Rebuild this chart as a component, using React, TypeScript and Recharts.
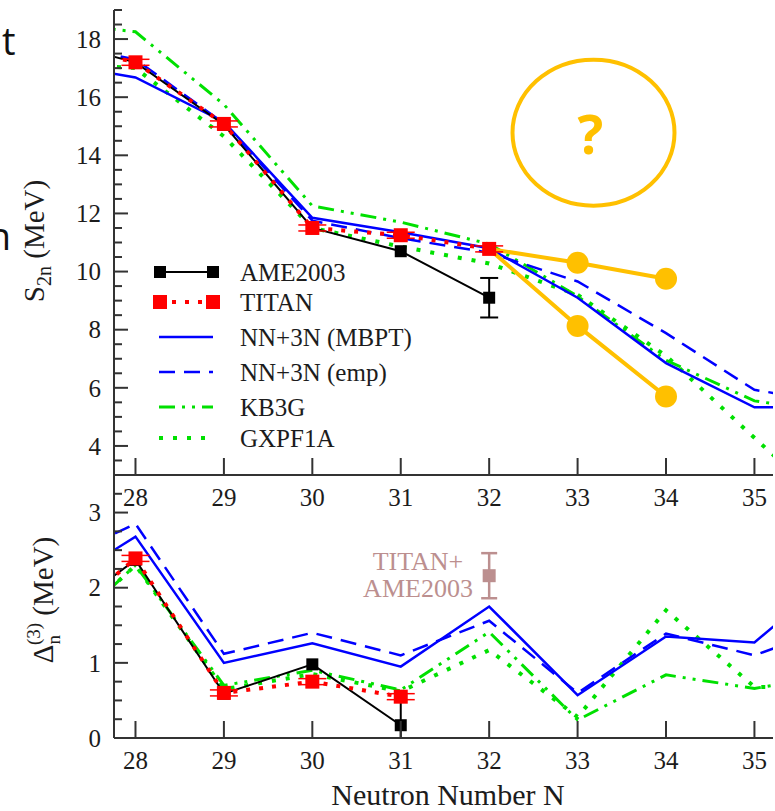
import React from "react";
import { LineChart, Line, XAxis, YAxis, ErrorBar, ReferenceDot } from "recharts";

// neutron number N (27 and 36 only carry the lines out to the frame)
const N = [27, 28, 29, 30, 31, 32, 33, 34, 35, 36];

// S2n (MeV), upper panel
const s2nAME = [18.0, 17.2, 15.05, 11.5, 10.7, 9.1, null, null, null, null];
const s2nAMEErr = [null, null, null, null, null, 0.68, null, null, null, null];
const s2nTITAN = [17.9, 17.2, 15.08, 11.5, 11.25, 10.78, null, null, null, null];
const s2nMBPT = [17.2, 16.68, 15.15, 11.85, 11.35, 10.8, 9.1, 6.85, 5.33, 5.33];
const s2nEmp = [17.9, 17.3, 15.1, 11.75, 11.15, 10.65, 9.66, 7.88, 5.93, 5.43];
const s2nKB3G = [18.6, 18.25, 15.75, 12.26, 11.7, 10.95, 9.15, 6.95, 5.55, 5.1];
const s2nGXPF1A = [17.2, 17.0, 14.65, 11.5, 10.86, 10.28, 9.2, 7.1, 4.28, 1.5];
const guessHigh = [null, null, null, null, null, 10.78, 10.3, 9.75, null, null];
const guessLow = [null, null, null, null, null, 10.78, 8.13, 5.7, null, null];

// Delta_n^(3) (MeV), lower panel
const d3AME = [1.5, 2.37, 0.59, 0.98, 0.17, null, null, null, null, null];
const d3AMEErr = [null, null, null, null, [0.17, 0.37], null, null, null, null, null];
const d3TITAN = [1.4, 2.39, 0.6, 0.75, 0.55, null, null, null, null, null];
const d3MBPT = [1.94, 2.68, 1.0, 1.26, 0.95, 1.75, 0.57, 1.35, 1.27, 2.27];
const d3Emp = [2.3, 2.85, 1.12, 1.4, 1.1, 1.56, 0.6, 1.39, 1.1, 1.53];
const d3KB3G = [1.2, 2.3, 0.7, 0.9, 0.64, 1.41, 0.24, 0.84, 0.66, 0.85];
const d3GXPF1A = [1.2, 2.3, 0.65, 0.85, 0.62, 1.17, 0.28, 1.7, 0.68, 0.68];
const d3Combined = [null, null, null, null, null, 2.16, null, null, null, null];
const d3CombinedErr = [null, null, null, null, null, 0.3, null, null, null, null];

const N_TICKS = [28, 29, 30, 31, 32, 33, 34, 35];
const S2N_TICKS = Array.from({ length: 33 }, (_, i) => 3 + i * 0.5);
const D3_TICKS = Array.from({ length: 15 }, (_, i) => i * 0.25);

const topRows = N.map((n, i) => ({
  n,
  ame: s2nAME[i],
  ameErr: s2nAMEErr[i],
  titan: s2nTITAN[i],
  mbpt: s2nMBPT[i],
  emp: s2nEmp[i],
  kb3g: s2nKB3G[i],
  gxpf: s2nGXPF1A[i],
  hi: guessHigh[i],
  lo: guessLow[i],
}));

const bottomRows = N.map((n, i) => ({
  n,
  ame: d3AME[i],
  ameErr: d3AMEErr[i],
  titan: d3TITAN[i],
  mbpt: d3MBPT[i],
  emp: d3Emp[i],
  kb3g: d3KB3G[i],
  gxpf: d3GXPF1A[i],
  comb: d3Combined[i],
  combErr: d3CombinedErr[i],
}));

const W = 775;
const X_DOMAIN: [number, number] = [27.757, 35.21];
const SERIF = '"Liberation Serif", "Times New Roman", Times, serif';
const SANS = '"Open Sans", "Noto Sans", sans-serif';
const INK = "#1c1c1c";
const FRAME = { stroke: "#333", strokeWidth: 2 };
const RED = "#ff0000";
const ORANGE = "#ffc000";
const BROWN = "#bc8f8f";
const serif = (size: number) => ({ fontFamily: SERIF, fontSize: size });

const STYLE: Record<string, { color: string; width: number; dash?: string }> = {
  ame: { color: "#000000", width: 2 },
  titan: { color: RED, width: 4, dash: "4 9" },
  mbpt: { color: "#0000ff", width: 2.5 },
  emp: { color: "#0000ff", width: 2.5, dash: "16 9" },
  kb3g: { color: "#00e000", width: 3, dash: "16 7 3 7 3 7" },
  gxpf: { color: "#00e000", width: 4, dash: "4 10" },
};

const LEGEND = [
  { key: "ame", name: "AME2003", y: 272 },
  { key: "titan", name: "TITAN", y: 302 },
  { key: "mbpt", name: "NN+3N (MBPT)", y: 337 },
  { key: "emp", name: "NN+3N (emp)", y: 372 },
  { key: "kb3g", name: "KB3G", y: 407 },
  { key: "gxpf", name: "GXPF1A", y: 438 },
];

const inFrame = (n: number) => n >= 28 && n <= 35;

const yTick = (side: "left" | "right", step: number, labels: boolean) => (props: any) => {
  const { x, y, payload } = props;
  const v = payload.value;
  const major = Math.abs(v / step - Math.round(v / step)) < 1e-6;
  const len = major ? 14 : 8;
  const dir = side === "left" ? 1 : -1;
  return (
    <g>
      <line x1={x} x2={x + dir * len} y1={y} y2={y} stroke="#333" strokeWidth={2} />
      {labels && major && (
        <text x={x - 13} y={y} dy="0.35em" textAnchor="end" style={serif(25)} fill={INK}>
          {v}
        </text>
      )}
    </g>
  );
};

const xTick = (side: "top" | "bottom", labels: boolean) => (props: any) => {
  const { x, y, payload } = props;
  const dir = side === "bottom" ? -1 : 1;
  return (
    <g>
      <line x1={x} x2={x} y1={y} y2={y + dir * 17} stroke="#333" strokeWidth={2} />
      {labels && (
        <text x={x} y={y + 22} dy="0.35em" textAnchor="middle" style={serif(25)} fill={INK}>
          {payload.value}
        </text>
      )}
    </g>
  );
};

const squareDot = (size: number, color: string) => (props: any) => {
  const { cx, cy, payload, index } = props;
  if (cx == null || cy == null || !inFrame(payload.n)) return <g key={index} />;
  return <rect key={index} x={cx - size / 2} y={cy - size / 2} width={size} height={size} fill={color} />;
};

const titanDot = (props: any) => {
  const { cx, cy, payload, index } = props;
  if (cx == null || cy == null || !inFrame(payload.n)) return <g key={index} />;
  return (
    <g key={index}>
      <line x1={cx - 14} x2={cx + 14} y1={cy - 3} y2={cy - 3} stroke={RED} strokeWidth={1.5} />
      <line x1={cx - 14} x2={cx + 14} y1={cy + 3} y2={cy + 3} stroke={RED} strokeWidth={1.5} />
      <rect x={cx - 7} y={cy - 7} width={14} height={14} fill={RED} />
    </g>
  );
};

const guessDot = (props: any) => {
  const { cx, cy, payload, index } = props;
  if (cx == null || cy == null || payload.n <= 32) return <g key={index} />;
  return <circle key={index} cx={cx} cy={cy} r={11} fill={ORANGE} />;
};

function theoryLines(ids: { xAxisId: string; yAxisId: string }) {
  return ["gxpf", "kb3g", "emp", "mbpt"].map((k) => (
    <Line
      key={k}
      {...ids}
      dataKey={k}
      stroke={STYLE[k].color}
      strokeWidth={STYLE[k].width}
      strokeDasharray={STYLE[k].dash}
      dot={false}
      isAnimationActive={false}
    />
  ));
}

function TopPanel() {
  const ids = { xAxisId: "b", yAxisId: "l" };
  return (
    <LineChart width={W} height={520} data={topRows} margin={{ top: 10, right: 2, bottom: 0, left: 0 }}>
      <XAxis xAxisId="b" dataKey="n" type="number" domain={X_DOMAIN} allowDataOverflow ticks={N_TICKS} interval={0}
        height={45} tickSize={0} tickMargin={0} tickLine={false} axisLine={FRAME} tick={xTick("bottom", true)} />
      <XAxis xAxisId="t" orientation="top" dataKey="n" type="number" domain={X_DOMAIN} allowDataOverflow ticks={N_TICKS}
        interval={0} height={0} tickSize={0} tickMargin={0} tickLine={false} axisLine={FRAME} tick={xTick("top", false)} />
      <YAxis yAxisId="l" type="number" domain={[3, 19]} allowDataOverflow ticks={S2N_TICKS} interval={0} width={114}
        tickSize={0} tickMargin={0} tickLine={false} axisLine={FRAME} tick={yTick("left", 2, true)} />
      <YAxis yAxisId="r" orientation="right" type="number" domain={[3, 19]} allowDataOverflow ticks={S2N_TICKS}
        interval={0} width={0} tickSize={0} tickMargin={0} tickLine={false} axisLine={FRAME} tick={yTick("right", 2, false)} />
      {theoryLines(ids)}
      <Line {...ids} dataKey="ame" stroke="#000" strokeWidth={2} dot={squareDot(12, "#000")} isAnimationActive={false}>
        <ErrorBar dataKey="ameErr" direction="y" width={9} stroke="#000" strokeWidth={2} />
      </Line>
      <Line {...ids} dataKey="titan" stroke={RED} strokeWidth={4} strokeDasharray="4 9" dot={titanDot} isAnimationActive={false} />
      <Line {...ids} dataKey="hi" stroke={ORANGE} strokeWidth={4} dot={guessDot} isAnimationActive={false} />
      <Line {...ids} dataKey="lo" stroke={ORANGE} strokeWidth={4} dot={guessDot} isAnimationActive={false} />
      <ReferenceDot
        {...ids}
        x={33.18}
        y={14.78}
        r={1}
        shape={(p: any) => (
          <g>
            <ellipse cx={p.cx} cy={p.cy} rx={81} ry={73} fill="none" stroke={ORANGE} strokeWidth={4} />
            <text x={p.cx - 3} y={p.cy + 21} textAnchor="middle" style={{ fontFamily: SANS, fontWeight: 700, fontSize: 54 }} fill={ORANGE}>
              ?
            </text>
          </g>
        )}
      />
    </LineChart>
  );
}

function BottomPanel() {
  const ids = { xAxisId: "b", yAxisId: "l" };
  return (
    <LineChart width={W} height={346} data={bottomRows} margin={{ top: 10, right: 2, bottom: 0, left: 0 }}>
      <XAxis xAxisId="b" dataKey="n" type="number" domain={X_DOMAIN} allowDataOverflow ticks={N_TICKS} interval={0}
        height={73} tickSize={0} tickMargin={0} tickLine={false} axisLine={FRAME} tick={xTick("bottom", true)} />
      <YAxis yAxisId="l" type="number" domain={[0, 3.5]} allowDataOverflow ticks={D3_TICKS} interval={0} width={114}
        tickSize={0} tickMargin={0} tickLine={false} axisLine={FRAME} tick={yTick("left", 1, true)} />
      <YAxis yAxisId="r" orientation="right" type="number" domain={[0, 3.5]} allowDataOverflow ticks={D3_TICKS}
        interval={0} width={0} tickSize={0} tickMargin={0} tickLine={false} axisLine={FRAME} tick={yTick("right", 1, false)} />
      {theoryLines(ids)}
      <Line {...ids} dataKey="ame" stroke="#000" strokeWidth={2} dot={squareDot(12, "#000")} isAnimationActive={false}>
        <ErrorBar dataKey="ameErr" direction="y" width={0} stroke="#000" strokeWidth={2} />
      </Line>
      <Line {...ids} dataKey="titan" stroke={RED} strokeWidth={4} strokeDasharray="4 9" dot={titanDot} isAnimationActive={false} />
      <Line {...ids} dataKey="comb" stroke="none" dot={squareDot(13, BROWN)} isAnimationActive={false}>
        <ErrorBar dataKey="combErr" direction="y" width={8} stroke={BROWN} strokeWidth={2.5} />
      </Line>
    </LineChart>
  );
}

function LegendSymbol({ k, y }: { k: string; y: number }) {
  const s = STYLE[k];
  return (
    <g>
      <line x1={159} x2={213} y1={y} y2={y} stroke={s.color} strokeWidth={s.width} strokeDasharray={s.dash} />
      {k === "ame" && (
        <>
          <rect x={154} y={y - 6} width={12} height={12} fill="#000" />
          <rect x={207} y={y - 6} width={12} height={12} fill="#000" />
        </>
      )}
      {k === "titan" && (
        <>
          <rect x={153} y={y - 7} width={14} height={14} fill={RED} />
          <rect x={206} y={y - 7} width={14} height={14} fill={RED} />
        </>
      )}
    </g>
  );
}

function Overlay() {
  return (
    <svg width={W} height={811} style={{ position: "absolute", left: 0, top: 0, pointerEvents: "none" }}>
      {/* cut-off slide text on the left */}
      <text x={2} y={55} style={{ fontFamily: SANS, fontSize: 38 }} fill="#111">t</text>
      <text x={11} y={250} textAnchor="end" style={{ fontFamily: SANS, fontSize: 38 }} fill="#111">n</text>

      {LEGEND.map((e) => (
        <g key={e.key}>
          <LegendSymbol k={e.key} y={e.y} />
          <text x={240} y={e.y} dy="0.35em" style={serif(25)} fill={INK}>{e.name}</text>
        </g>
      ))}

      <text x={418} y={570} textAnchor="middle" style={serif(26)} fill={BROWN}>TITAN+</text>
      <text x={418} y={597} textAnchor="middle" style={serif(26)} fill={BROWN}>AME2003</text>

      <text transform="translate(44,241) rotate(-90)" textAnchor="middle" style={serif(29)} fill={INK}>
        S<tspan style={{ fontSize: 20 }} dy={7}>2n</tspan>
        <tspan dy={-7}> (MeV)</tspan>
      </text>
      <text transform="translate(53,600) rotate(-90)" textAnchor="middle" style={serif(29)} fill={INK}>
        Δ<tspan style={{ fontSize: 19 }} dy={7}>n</tspan>
        <tspan style={{ fontSize: 19 }} dx={-10} dy={-20}>(3)</tspan>
        <tspan dy={13}> (MeV)</tspan>
      </text>
      <text x={448} y={805} textAnchor="middle" style={serif(30)} fill={INK}>Neutron Number N</text>
    </svg>
  );
}

export default function App() {
  return (
    <div style={{ position: "absolute", left: 0, top: 0, width: W, height: 811, background: "#fff", overflow: "hidden" }}>
      <div style={{ position: "absolute", left: 0, top: 465 }}>
        <BottomPanel />
      </div>
      <div style={{ position: "absolute", left: 0, top: 0 }}>
        <TopPanel />
      </div>
      <Overlay />
    </div>
  );
}
